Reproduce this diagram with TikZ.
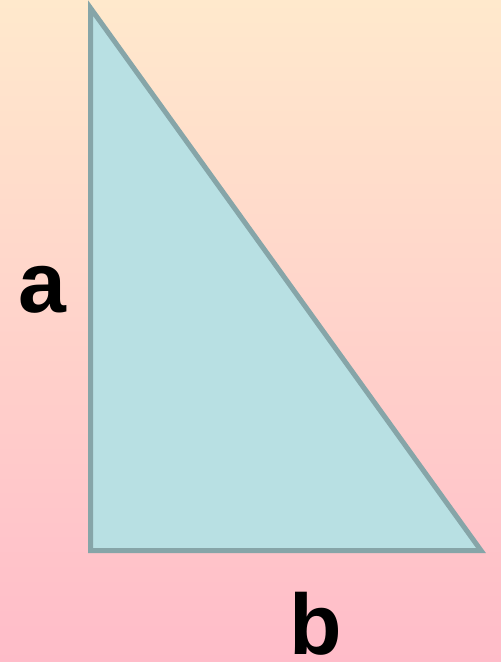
\documentclass[tikz,border=0pt]{standalone}
\usepackage{fontspec}
\setmainfont{Liberation Sans}
\usepackage{tikz}
\usetikzlibrary{calc}

\definecolor{bgtop}{HTML}{FFE9CC}
\definecolor{bgbottom}{HTML}{FFBCC9}
\definecolor{trifill}{HTML}{B8E0E3}
\definecolor{triline}{HTML}{86A5A8}

\begin{document}
\begin{tikzpicture}[x=1pt, y=-1pt]
    \coordinate (TL) at (0,0);
    \coordinate (BR) at (501,662);
    \coordinate (A) at (90.5,8);
    \coordinate (C) at (90.5,550.5);
    \coordinate (B) at (481,550.5);
    \useasboundingbox (TL) rectangle (BR);
    \shade[top color=bgtop, bottom color=bgbottom] (TL) rectangle (BR);
    \draw[line width=5pt, triline, fill=trifill, line join=miter] (A) -- (C) -- (B) -- cycle;
    \node[font=\fontsize{86}{86}\selectfont\bfseries, anchor=base, inner sep=0pt, text depth=0pt] (la) at (42.5,312) {a};
    \node[font=\fontsize{86}{86}\selectfont\bfseries, anchor=base, inner sep=0pt, text depth=0pt] (lb) at (315.5,654) {b};
\end{tikzpicture}
\end{document}
